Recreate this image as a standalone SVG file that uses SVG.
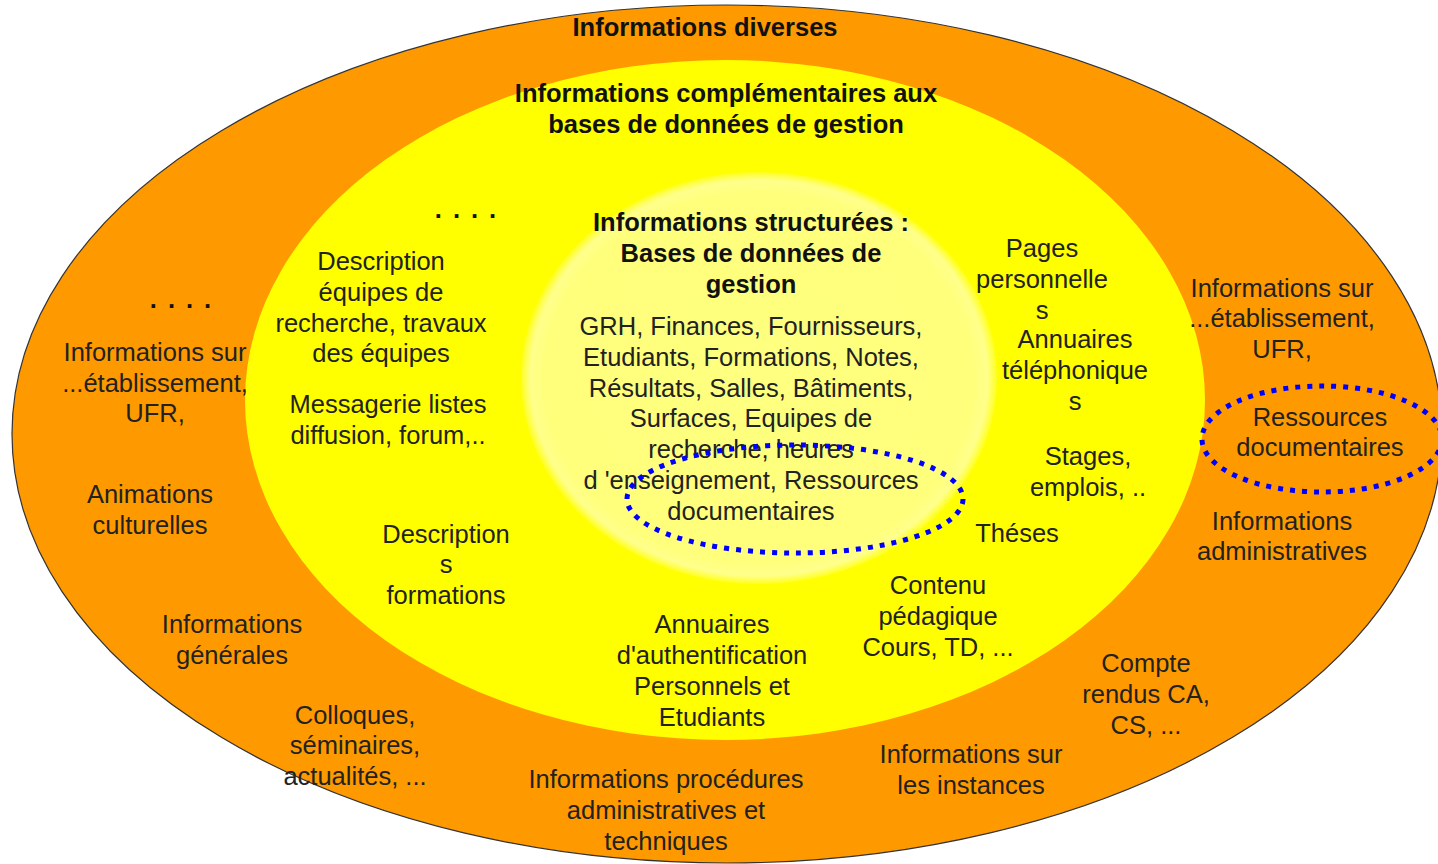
<svg xmlns="http://www.w3.org/2000/svg" width="1438" height="864" viewBox="0 0 1438 864">
<defs>
<radialGradient id="core" cx="0.5" cy="0.5" r="0.5">
<stop offset="0" stop-color="#FFFF80"/>
<stop offset="0.9" stop-color="#FFFF7C"/>
<stop offset="0.96" stop-color="#FFFF8C"/>
<stop offset="1" stop-color="#FFFF20"/>
</radialGradient>
<style>
text{font-family:"Liberation Sans",Arial,sans-serif;font-size:25.5px;fill:#222;text-anchor:middle}
.b{font-weight:bold;fill:#111}
.dots{font-weight:bold;letter-spacing:11px;fill:#111}
.sel{fill:none;stroke:#0000FF;stroke-width:5;stroke-dasharray:5 7}
</style>
</defs>
<rect width="1438" height="864" fill="#FFFFFF"/>
<g id="ring-diverses">
<ellipse cx="727" cy="434" rx="715" ry="429" fill="#FF9900" stroke="#333" stroke-width="1.2"/>
</g>
<g id="ring-complementaires">
<ellipse cx="725" cy="400" rx="480" ry="340" fill="#FFFF00"/>
</g>
<g id="ring-structurees">
<ellipse cx="759" cy="378" rx="238" ry="206" fill="url(#core)"/>
</g>

<g id="t-diverses"><text class="b" x="705" y="36">Informations diverses</text></g>
<g id="t-complementaires"><text class="b" x="726" y="102">Informations complémentaires aux</text><text class="b" x="726" y="133">bases de données de gestion</text></g>
<g id="t-structurees">
<text class="b" x="751" y="231">Informations structurées :</text>
<text class="b" x="751" y="262">Bases de données  de</text>
<text class="b" x="751" y="293">gestion</text>
<text x="751" y="335">GRH, Finances, Fournisseurs,</text>
<text x="751" y="366">Etudiants, Formations, Notes,</text>
<text x="751" y="397">Résultats, Salles, Bâtiments,</text>
<text x="751" y="427">Surfaces, Equipes de</text>
<text x="751" y="458">recherche, heures</text>
<text x="751" y="489">d 'enseignement, Ressources</text>
<text x="751" y="520">documentaires</text>
</g>

<g id="n-dots-yellow"><text class="dots" x="471" y="218">....</text></g>
<g id="n-equipes"><text x="381" y="270">Description</text><text x="381" y="301">équipes  de</text><text x="381" y="332">recherche, travaux</text><text x="381" y="362">des équipes</text></g>
<g id="n-messagerie"><text x="388" y="413">Messagerie listes</text><text x="388" y="444">diffusion, forum,..</text></g>
<g id="n-formations"><text x="446" y="543">Description</text><text x="446" y="573">s</text><text x="446" y="604">formations</text></g>
<g id="n-annuaires-auth"><text x="712" y="633">Annuaires</text><text x="712" y="664">d'authentification</text><text x="712" y="695">Personnels et</text><text x="712" y="726">Etudiants</text></g>
<g id="n-pages"><text x="1042" y="257">Pages</text><text x="1042" y="288">personnelle</text><text x="1042" y="319">s</text></g>
<g id="n-annuaires-tel"><text x="1075" y="348">Annuaires</text><text x="1075" y="379">téléphonique</text><text x="1075" y="410">s</text></g>
<g id="n-stages"><text x="1088" y="465">Stages,</text><text x="1088" y="496">emplois, ..</text></g>
<g id="n-theses"><text x="1017" y="542">Théses</text></g>
<g id="n-contenu"><text x="938" y="594">Contenu</text><text x="938" y="625">pédagique</text><text x="938" y="656">Cours, TD, ...</text></g>

<g id="n-dots-orange"><text class="dots" x="186" y="308">....</text></g>
<g id="n-etab-left"><text x="155" y="361">Informations sur</text><text x="155" y="392">...établissement,</text><text x="155" y="422">UFR,</text></g>
<g id="n-animations"><text x="150" y="503">Animations</text><text x="150" y="534">culturelles</text></g>
<g id="n-generales"><text x="232" y="633">Informations</text><text x="232" y="664">générales</text></g>
<g id="n-colloques"><text x="355" y="724">Colloques,</text><text x="355" y="754">séminaires,</text><text x="355" y="785">actualités, ...</text></g>
<g id="n-procedures"><text x="666" y="788">Informations procédures</text><text x="666" y="819">administratives et</text><text x="666" y="850">techniques</text></g>
<g id="n-instances"><text x="971" y="763">Informations sur</text><text x="971" y="794">les instances</text></g>
<g id="n-compte"><text x="1146" y="672">Compte</text><text x="1146" y="703">rendus CA,</text><text x="1146" y="734">CS, ...</text></g>
<g id="n-etab-right"><text x="1282" y="297">Informations sur</text><text x="1282" y="327">...établissement,</text><text x="1282" y="358">UFR,</text></g>
<g id="n-ressources"><text x="1320" y="426">Ressources</text><text x="1320" y="456">documentaires</text></g>
<g id="n-admin"><text x="1282" y="530">Informations</text><text x="1282" y="560">administratives</text></g>

<g id="connectors">
<ellipse class="sel" cx="795" cy="499" rx="168" ry="54"/>
<ellipse class="sel" cx="1322" cy="439" rx="120" ry="53"/>
</g>
</svg>
